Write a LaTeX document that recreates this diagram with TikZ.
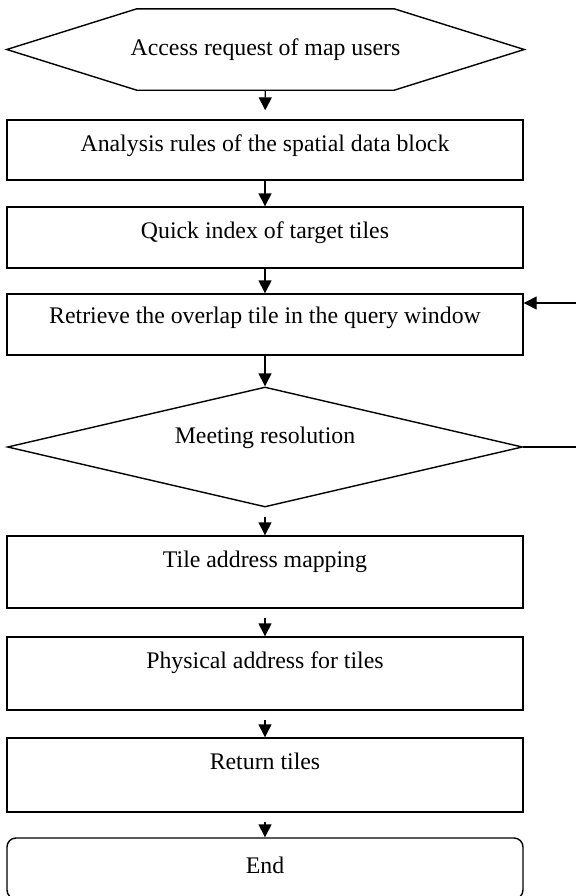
\documentclass[tikz,border=0pt]{standalone}
\usepackage{fontspec}
\setmainfont{Liberation Serif}
\usetikzlibrary{shapes.geometric,arrows.meta}

\tikzset{
  flow/.style={line width=1.4bp},
  txt/.style={font=\fontsize{23.8bp}{28bp}\selectfont, inner sep=0pt},
  box/.style={txt, flow, draw, minimum width=516bp, text height=31bp},
  arr/.style={flow, -{Triangle[length=13bp,width=13bp]}},
}

\begin{document}
\begin{tikzpicture}[x=1bp,y=-1bp]
  \useasboundingbox (0,0) rectangle (576,896);

  \node[txt, minimum width=517bp, minimum height=81bp] (access) at (265.5,49.5) {Access request of map users};
  \draw[flow] (access.west) -- ([xshift=130bp]access.north west) -- ([xshift=-130bp]access.north east)
    -- (access.east) -- ([xshift=-130bp]access.south east) -- ([xshift=130bp]access.south west) -- cycle;

  \node[box, text depth=29bp] (rules) at (265,150) {Analysis rules of the spatial data block};
  \node[box, text depth=30bp] (index) at (265,237.5) {Quick index of target tiles};
  \node[box, text height=29bp, text depth=32bp] (overlap) at (265,324.5) {Retrieve the overlap tile in the query window};
  \node[txt, flow, draw, diamond, aspect=4.3, minimum width=515bp, minimum height=120bp,
    text height=16bp, text depth=24bp] (res) at (265,447) {Meeting resolution};
  \node[box, text depth=41bp] (mapping) at (265,572) {Tile address mapping};
  \node[box, text depth=42bp] (phys) at (265,673.5) {Physical address for tiles};
  \node[box, text depth=43bp] (ret) at (265,775) {Return tiles};
  \node[box, rounded corners=9bp, text height=35bp, text depth=26bp] (end) at (265,868.5) {End};

  % connectors
  \draw[arr, shorten >=9bp] (access) -- (rules);
  \draw[arr] (rules) -- (index);
  \draw[arr] (index) -- (overlap);
  \draw[arr] (overlap) -- (res);
  \draw[arr, shorten <=9bp] (res) -- (mapping);
  \draw[arr, shorten <=9bp] (mapping) -- (phys);
  \draw[arr, shorten <=9bp] (phys) -- (ret);
  \draw[arr, shorten <=9bp] (ret) -- (end);

  % loop back, cut at the right edge
  \coordinate (out) at (576,447);
  \coordinate (back) at (576,303);
  \draw[flow] (res.east) -- (out);
  \draw[arr] (back) -- (back -| overlap.east);
\end{tikzpicture}
\end{document}
